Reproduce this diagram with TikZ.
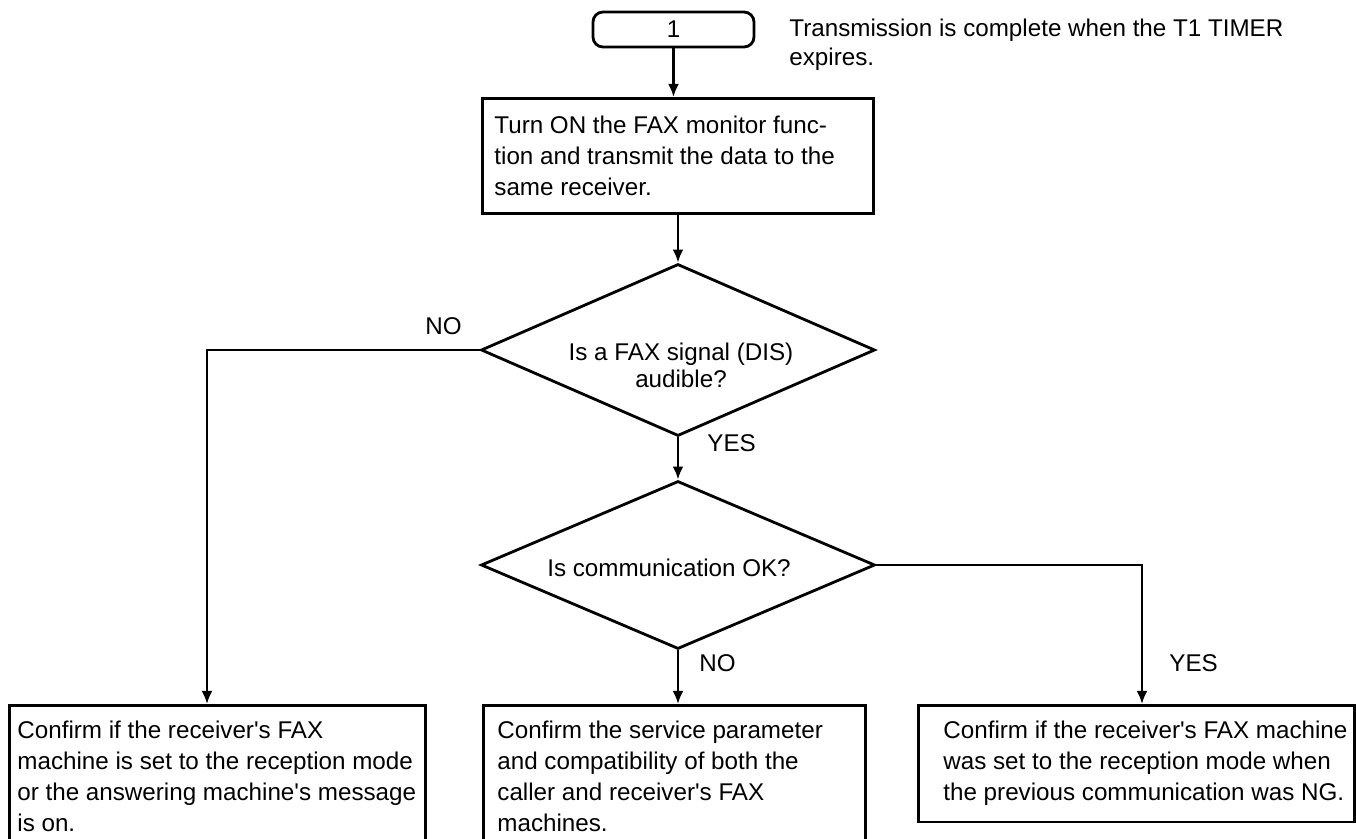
\documentclass[tikz,border=0pt]{standalone}
\usepackage{fontspec}
\setmainfont{Liberation Sans}
\usetikzlibrary{arrows.meta,positioning,shapes.geometric}

\begin{document}
\begin{tikzpicture}[x=0.5pt, y=-0.5pt,
    font=\fontsize{12.1pt}{15.5pt}\selectfont,
    line width=1.4pt,
    flow/.style={-{Latex[length=6.5pt,width=5.5pt]}},
    actbox/.style={draw, rectangle, align=flush left, anchor=north west, inner ysep=8pt},
    decision/.style={draw, diamond, inner sep=0pt, minimum width=197pt},
    tag/.style={inner sep=0pt}]

  % Page frame (pixel units)
  \useasboundingbox (0,0) rectangle (1356,839);
  \clip (0,0) rectangle (1356,839);

  % Start terminal and note
  \node[draw, rounded corners=5pt, minimum width=80.5pt, minimum height=17.5pt, inner sep=0pt] (start) at (673.5,29.5) {1};
  \node[tag, align=left, anchor=north west, font=\fontsize{12.1pt}{14.5pt}\selectfont] (note) at (788,18)
    {Transmission is complete when the T1 TIMER\\expires.};

  % Monitor step
  \node[actbox, text width=183.5pt, inner xsep=6pt, minimum height=57.5pt] (box1) at (481,97)
    {Turn ON the FAX monitor func-\\tion and transmit the data to the\\same receiver.};

  % Decisions
  \node[decision, minimum height=86pt] (dis) at (678,350) {};
  \node[tag, align=center, font=\fontsize{12.1pt}{13.5pt}\selectfont] (distext) at (681,365)
    {Is a FAX signal (DIS)\\audible?};
  \node[decision, minimum height=84pt] (comm) at (678,565) {};
  \node[tag] (commtext) at (669,568) {Is communication OK?};

  % Result boxes
  \node[actbox, text width=200pt, inner xsep=4pt] (boxL) at (8,704)
    {Confirm if the receiver\textquotesingle s FAX\\machine is set to the reception mode\\or the answering machine\textquotesingle s message\\is on.};
  \node[actbox, text width=177pt, inner xsep=7pt] (boxM) at (482,704)
    {Confirm the service parameter\\and compatibility of both the\\caller and receiver\textquotesingle s FAX\\machines.};
  \node[actbox, text width=214pt, inner xsep=2pt] (boxR) at (917,704)
    {\hspace*{10.5pt}Confirm if the receiver\textquotesingle s FAX machine\\\hspace*{10.5pt}was set to the reception mode when\\\hspace*{10.5pt}the previous communication was NG.};

  % Bends
  \coordinate (nobend) at (207,350);
  \coordinate (yesbend) at (1142,565);

  % Connectors
  \draw[flow] (start.south) -- (start.south |- box1.north);
  \draw[flow] (box1.south -| dis.north) -- (dis.north);
  \draw[flow] (dis.west) -- (nobend) -- (nobend |- boxL.north);
  \draw[flow] (dis.south) -- (comm.north);
  \draw[flow] (comm.south) -- (comm.south |- boxM.north);
  \draw[flow] (comm.east) -- (yesbend) -- (yesbend |- boxR.north);

  % Branch labels
  \node[tag, anchor=base east] (no1) at (463,335) {NO};
  \node[tag, anchor=base west] (yes1) at (706,452) {YES};
  \node[tag, anchor=base west] (no2) at (698,672) {NO};
  \node[tag, anchor=base west] (yes2) at (1168,672) {YES};

\end{tikzpicture}
\end{document}
